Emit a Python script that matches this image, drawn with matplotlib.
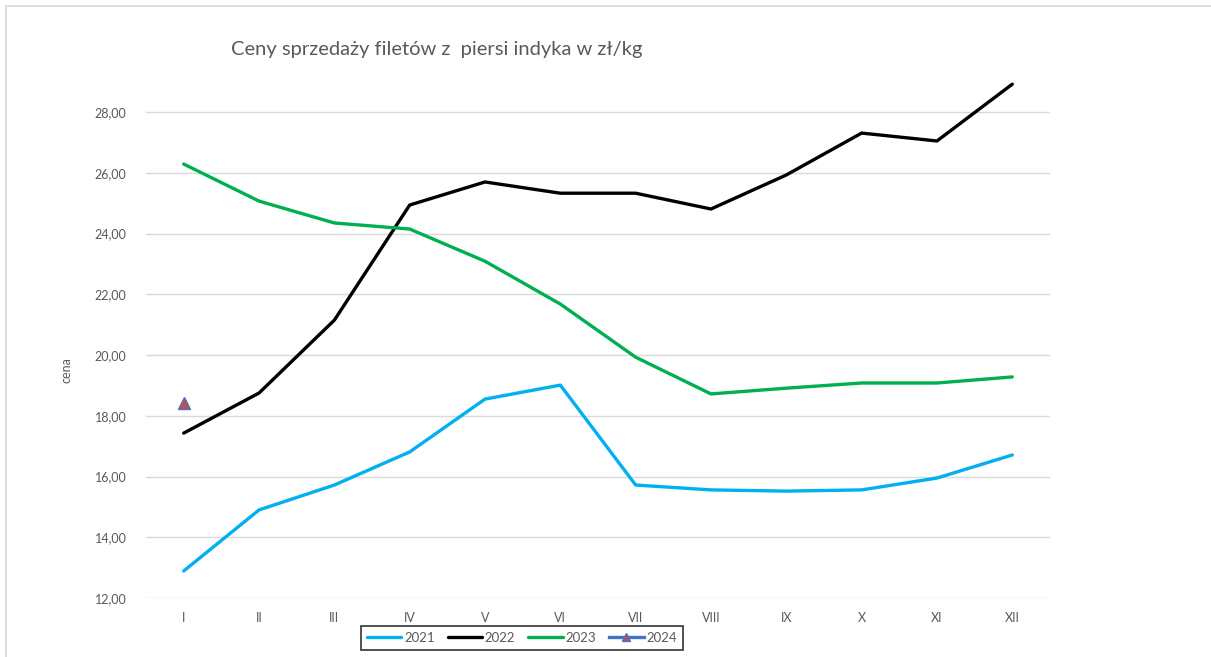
import matplotlib.pyplot as plt
from matplotlib.patches import Rectangle

months = ["I", "II", "III", "IV", "V", "VI", "VII", "VIII", "IX", "X", "XI", "XII"]
y2021 = [12.89, 14.90, 15.72, 16.81, 18.55, 19.01, 15.72, 15.56, 15.52, 15.56, 15.95, 16.71]
y2022 = [17.43, 18.75, 21.15, 24.94, 25.70, 25.33, 25.33, 24.81, 25.93, 27.31, 27.05, 28.92]
y2023 = [26.29, 25.07, 24.35, 24.15, 23.09, 21.68, 19.93, 18.72, 18.91, 19.08, 19.08, 19.28]
y2024 = [18.42]
yticks = [12, 14, 16, 18, 20, 22, 24, 26, 28]

gray = "#595959"
plt.rcParams['font.family'] = ['Lato', 'DejaVu Sans']

fig = plt.figure(figsize=(12.11, 6.57), dpi=100)
ax = fig.add_axes([0.1206, 0.0898, 0.7464, 0.795])

x = list(range(len(months)))
ax.plot(x, y2021, color="#00B0F0", lw=2.4, label="2021", solid_capstyle="round")
ax.plot(x, y2022, color="black", lw=2.4, label="2022", solid_capstyle="round")
ax.plot(x, y2023, color="#00B050", lw=2.4, label="2023", solid_capstyle="round")
ax.plot(x[:len(y2024)], y2024, color="#4472C4", lw=2.4, marker="^", markersize=8,
        markerfacecolor="#C0504D", markeredgecolor="#4472C4", markeredgewidth=1, label="2024")

ax.set_xlim(-0.5, len(months) - 0.5)
ax.set_ylim(12, 29.2)
ax.set_xticks(x)
ax.set_xticklabels(months)
ax.set_yticks(yticks)
ax.set_yticklabels(["{:.2f}".format(v).replace(".", ",") for v in yticks])
ax.tick_params(length=0, labelsize=9, colors=gray, pad=10)
ax.tick_params(axis="y", pad=14)
ax.grid(axis="y", color="#D9D9D9", lw=1)
ax.set_axisbelow(True)
for s in ax.spines.values():
    s.set_visible(False)

fig.text(0.0553, 0.437, "cena", rotation=90, fontsize=9, color=gray, ha="center", va="center")
fig.text(0.361, 0.924, "Ceny sprzedaży filetów z  piersi indyka w zł/kg", fontsize=14.5,
         color=gray, ha="center", va="center")

leg = fig.legend(loc="center", bbox_to_anchor=(0.431, 0.029), ncol=4, frameon=True,
                 fancybox=False, edgecolor="black", fontsize=9.5, handlelength=2.6,
                 columnspacing=1.0, handletextpad=0.2, borderpad=0.45, markerscale=0.8)
leg.get_frame().set_linewidth(1.2)
for t in leg.get_texts():
    t.set_color(gray)

fig.patches.append(Rectangle((0.005, -0.01), 1.0, 1.0 - 0.009 + 0.01, transform=fig.transFigure,
                             fill=False, edgecolor="#D9D9D9", lw=1.2))

fig.savefig("out.png", dpi=100)
